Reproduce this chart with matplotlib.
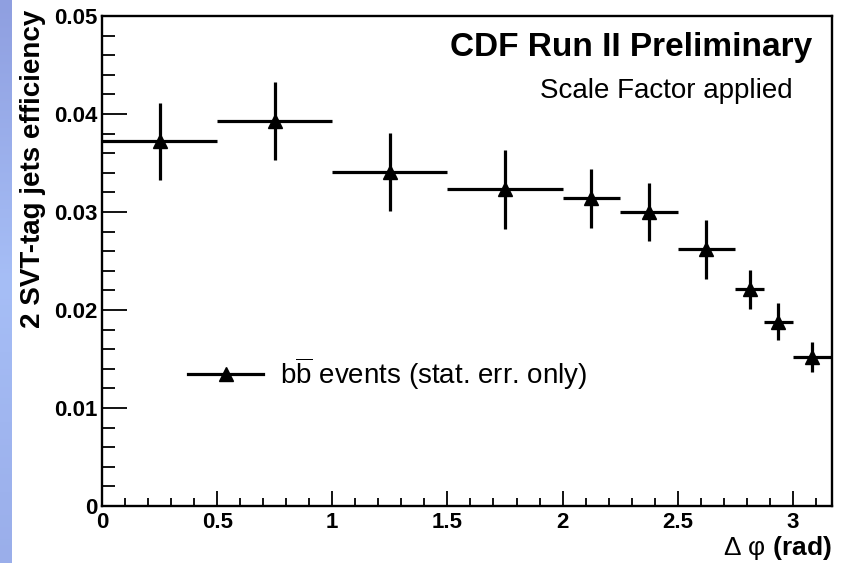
import numpy as np
import matplotlib
matplotlib.use("Agg")
import matplotlib.pyplot as plt
from matplotlib.lines import Line2D
from matplotlib.ticker import MultipleLocator
from matplotlib.colors import LinearSegmentedColormap

plt.rcParams['font.family'] = ['Liberation Sans', 'DejaVu Sans']
plt.rcParams['mathtext.fontset'] = 'custom'
plt.rcParams['mathtext.rm'] = 'Liberation Sans'
plt.rcParams['mathtext.bf'] = 'Liberation Sans:bold'
plt.rcParams['mathtext.it'] = 'Liberation Sans:italic'

# ---- data ----
bin_lo = [0.0, 0.5, 1.0, 1.5, 2.0, 2.25, 2.5, 2.75, 2.875, 3.0]
bin_hi = [0.5, 1.0, 1.5, 2.0, 2.25, 2.5, 2.75, 2.875, 3.0, 3.17]
efficiency = [0.0372, 0.0393, 0.0341, 0.0323, 0.0314, 0.0300, 0.0262, 0.0221, 0.0188, 0.0152]
stat_err = [0.0039, 0.0040, 0.0040, 0.0040, 0.0030, 0.0030, 0.0030, 0.0020, 0.0019, 0.0015]

legend_label = r'b$\overline{\mathrm{b}}$ events (stat. err. only)'
title_text = 'CDF Run II Preliminary'
subtitle_text = 'Scale Factor applied'
y_label = '2 SVT-tag jets efficiency'
x_label = r'$\mathrm{\Delta\ \varphi}\ \mathbf{(rad)}$'

lo = np.array(bin_lo)
hi = np.array(bin_hi)
xc = 0.5 * (lo + hi)
xerr = 0.5 * (hi - lo)

fig = plt.figure(figsize=(8.41, 5.63), dpi=100)
fig.patch.set_facecolor('white')

# blue strip on the left edge
strip = fig.add_axes([0, 0, 12 / 841, 1])
grad = np.linspace(0, 1, 256).reshape(-1, 1)
cmap = LinearSegmentedColormap.from_list('strip', ['#8f9fe0', '#a6bef6', '#9aaeea'])
strip.imshow(grad, aspect='auto', cmap=cmap, extent=[0, 1, 0, 1])
strip.set_axis_off()

ax = fig.add_axes([102 / 841, 1 - 506 / 563, (832 - 102) / 841, (506 - 16) / 563])
ax.errorbar(xc, efficiency, xerr=xerr, yerr=stat_err, fmt='^', color='black',
            ecolor='black', elinewidth=2.3, capsize=0, markersize=9.5, zorder=3)

ax.set_xlim(0, 3.17)
ax.set_ylim(0, 0.05)
ax.xaxis.set_minor_locator(MultipleLocator(0.1))
ax.yaxis.set_minor_locator(MultipleLocator(0.002))
ax.set_xticks([0, 0.5, 1, 1.5, 2, 2.5, 3])
ax.set_xticklabels(['0', '0.5', '1', '1.5', '2', '2.5', '3'])
ax.set_yticks([0, 0.01, 0.02, 0.03, 0.04, 0.05])
ax.set_yticklabels(['0', '0.01', '0.02', '0.03', '0.04', '0.05'])

for s in ax.spines.values():
    s.set_linewidth(1.7)
ax.tick_params(axis='x', which='major', direction='in', length=11, width=1.3,
               labelsize=16, pad=4, top=False)
ax.tick_params(axis='x', which='minor', direction='in', length=6, width=1.3, top=False)
ax.tick_params(axis='y', which='major', direction='in', length=18, width=1.3,
               labelsize=16, pad=3, right=False)
ax.tick_params(axis='y', which='minor', direction='in', length=9.5, width=1.3, right=False)
for lab in ax.get_xticklabels() + ax.get_yticklabels():
    lab.set_fontweight('bold')

ax.set_ylabel(y_label, fontsize=20, fontweight='bold', loc='top')
ax.yaxis.set_label_coords(-0.077, 1.012)
ax.set_xlabel(x_label, fontsize=19, loc='right', labelpad=1)

ax.text(0.973, 0.935, title_text, transform=ax.transAxes, ha='right', va='center',
        fontsize=24, fontweight='bold')
ax.text(0.946, 0.847, subtitle_text, transform=ax.transAxes, ha='right', va='center',
        fontsize=20)

handle = Line2D([], [], color='black', linewidth=2.3, marker='^', markersize=9.5)
leg = ax.legend([handle], [legend_label], loc='center left',
                bbox_to_anchor=(0.118, 0.271), frameon=False, fontsize=20,
                handlelength=2.7, handletextpad=0.6, borderpad=0, borderaxespad=0)

fig.savefig('out.png', dpi=100)
